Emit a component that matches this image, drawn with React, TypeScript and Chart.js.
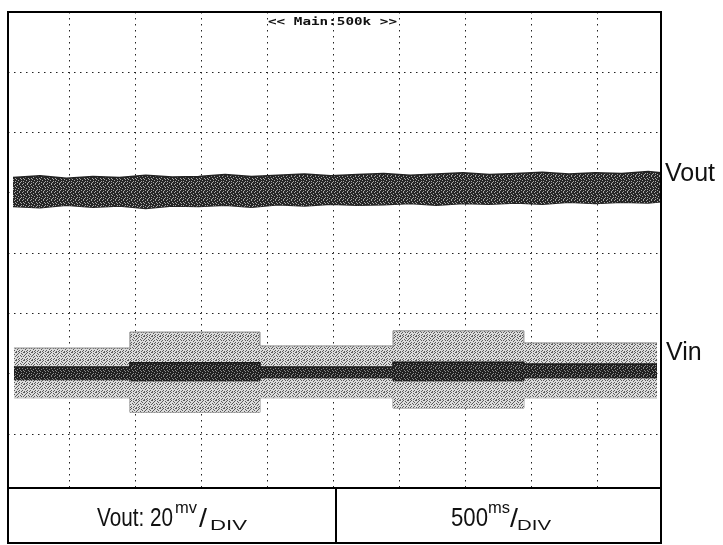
import React, { useEffect, useRef } from 'react';
import { Chart, registerables } from 'chart.js';

Chart.register(...registerables);

// Time axis in seconds (500 ms / div), vertical axis in divisions (0 = screen centre)
const xGridTicks = [0.5, 1, 1.5, 2, 2.5, 3, 3.5, 4, 4.5];
const yGridTicks = [-3, -2, -1, 0, 1, 2, 3];

// Vout trace: noisy band, upper and lower envelope (divisions)
const voutTime = [0.076, 0.28, 0.48, 0.68, 0.88, 1.08, 1.28, 1.48, 1.68, 1.88, 2.08, 2.28, 2.48, 2.68, 2.88, 3.08, 3.28, 3.48, 3.68, 3.88, 4.08, 4.28, 4.48, 4.68, 4.88, 4.977];
const voutUpper = [1.25, 1.28, 1.24, 1.27, 1.25, 1.29, 1.26, 1.27, 1.30, 1.27, 1.29, 1.31, 1.28, 1.30, 1.32, 1.29, 1.31, 1.33, 1.30, 1.32, 1.34, 1.31, 1.33, 1.32, 1.35, 1.33];
const voutLower = [0.77, 0.75, 0.79, 0.76, 0.78, 0.74, 0.78, 0.77, 0.79, 0.76, 0.80, 0.78, 0.81, 0.79, 0.80, 0.82, 0.79, 0.82, 0.81, 0.83, 0.81, 0.84, 0.82, 0.84, 0.83, 0.85];

// Vin trace: step segments (value holds until next time point)
const vinTime = [0.083, 0.96, 1.944, 2.95, 3.94, 4.947];
const vinEnvUpper = [-1.575, -1.31, -1.54, -1.29, -1.49, -1.49];
const vinEnvLower = [-2.40, -2.64, -2.40, -2.57, -2.40, -2.40];
const vinCoreUpper = [-1.89, -1.82, -1.89, -1.81, -1.84, -1.84];
const vinCoreLower = [-2.10, -2.12, -2.07, -2.12, -2.07, -2.07];

const traceLabels = ['Vout', 'Vin'];
const titleText = '<< Main:500k >>';
const voutScaleText = ['Vout: 20', 'mv', '/', 'DIV'];
const timeScaleText = ['500', 'ms', '/', 'DIV'];

const pts = (xs: number[], ys: number[]) => xs.map((x, i) => ({ x, y: ys[i] }));

const FONT = '"Liberation Sans", Arial, sans-serif';

// stipple textures (style only)
const DARK_TEX = [
  '11101101',
  '10111111',
  '11110110',
  '01111011',
  '11011111',
  '11111010',
  '10110111',
  '11101110',
];
const LIGHT_TEX = [
  '10010001',
  '00100100',
  '01000010',
  '10001000',
  '00100101',
  '01000000',
  '00010010',
  '10100100',
];

function makePattern(rows: string[], on: string, off: string) {
  const c = document.createElement('canvas');
  c.width = rows[0].length;
  c.height = rows.length;
  const g = c.getContext('2d')!;
  rows.forEach((r, y) => {
    for (let x = 0; x < r.length; x++) {
      g.fillStyle = r[x] === '1' ? on : off;
      g.fillRect(x, y, 1, 1);
    }
  });
  const p = g.createPattern(c, 'repeat');
  return p || on;
}

function drawFit(ctx: CanvasRenderingContext2D, text: string, font: string, x: number, baseline: number, width: number) {
  ctx.save();
  ctx.font = font;
  const m = ctx.measureText(text).width;
  ctx.translate(x, baseline);
  ctx.scale(width / m, 1);
  ctx.fillText(text, 0, 0);
  ctx.restore();
}

const decorPlugin = {
  id: 'scopeDecor',
  afterDraw(chart: any) {
    const ctx: CanvasRenderingContext2D = chart.ctx;
    const a = chart.chartArea;
    ctx.save();
    ctx.strokeStyle = '#000';
    ctx.lineWidth = 2;
    const bottom = 543;
    const midX = 336;
    ctx.beginPath();
    ctx.rect(a.left, a.top, a.right - a.left, bottom - a.top);
    ctx.moveTo(a.left, a.bottom);
    ctx.lineTo(a.right, a.bottom);
    ctx.moveTo(midX, a.bottom);
    ctx.lineTo(midX, bottom);
    ctx.stroke();

    ctx.fillStyle = '#111';
    ctx.textBaseline = 'alphabetic';
    ctx.textAlign = 'left';
    // trace labels
    ctx.font = `25px ${FONT}`;
    ctx.fillText(traceLabels[0], 665, 181);
    ctx.fillText(traceLabels[1], 666, 360);

    // title
    drawFit(ctx, titleText, 'bold 10px "DejaVu Sans Mono", monospace', 268, 25, 129);

    // bottom scale texts
    drawFit(ctx, voutScaleText[0], `25px ${FONT}`, 97, 526, 76);
    drawFit(ctx, voutScaleText[1], `17px ${FONT}`, 175, 513, 22);
    drawFit(ctx, voutScaleText[2], `25px ${FONT}`, 199, 527, 8);
    drawFit(ctx, voutScaleText[3], `14px ${FONT}`, 210, 530, 37);

    drawFit(ctx, timeScaleText[0], `25px ${FONT}`, 451, 526, 37);
    drawFit(ctx, timeScaleText[1], `17px ${FONT}`, 488, 513, 22);
    drawFit(ctx, timeScaleText[2], `25px ${FONT}`, 510, 527, 8);
    drawFit(ctx, timeScaleText[3], `14px ${FONT}`, 517, 530, 34);
    ctx.restore();
  },
};

export default function App() {
  const ref = useRef<HTMLCanvasElement | null>(null);
  useEffect(() => {
    if (!ref.current) return;
    const darkTex = makePattern(DARK_TEX, '#262626', '#a8a8a8');
    const coreTex = makePattern(DARK_TEX, '#202020', '#8a8a8a');
    const lightTex = makePattern(LIGHT_TEX, '#5a5a5a', '#dcdcdc');
    const chart = new Chart(ref.current, {
      type: 'line',
      data: {
        datasets: [
          {
            label: 'Vin core upper',
            data: pts(vinTime, vinCoreUpper),
            stepped: 'before',
            fill: '+1',
            backgroundColor: coreTex,
            borderColor: '#1a1a1a',
            borderWidth: 1.5,
            pointRadius: 0,
          },
          {
            label: 'Vin core lower',
            data: pts(vinTime, vinCoreLower),
            stepped: 'before',
            fill: false,
            borderColor: '#2a2a2a',
            borderWidth: 1,
            pointRadius: 0,
          },
          {
            label: 'Vin envelope upper',
            data: pts(vinTime, vinEnvUpper),
            stepped: 'before',
            fill: '+1',
            backgroundColor: lightTex,
            borderColor: '#8a8a8a',
            borderWidth: 1,
            pointRadius: 0,
          },
          {
            label: 'Vin envelope lower',
            data: pts(vinTime, vinEnvLower),
            stepped: 'before',
            fill: false,
            borderColor: '#8a8a8a',
            borderWidth: 1,
            pointRadius: 0,
          },
          {
            label: 'Vout upper',
            data: pts(voutTime, voutUpper),
            fill: '+1',
            backgroundColor: darkTex,
            borderColor: '#222',
            borderWidth: 1.5,
            pointRadius: 0,
          },
          {
            label: 'Vout lower',
            data: pts(voutTime, voutLower),
            fill: false,
            borderColor: '#222',
            borderWidth: 1.5,
            pointRadius: 0,
          },
        ],
      },
      options: {
        responsive: false,
        maintainAspectRatio: false,
        animation: false,
        devicePixelRatio: 1,
        layout: { padding: { left: 8, right: 62, top: 12, bottom: 57 } },
        plugins: {
          legend: { display: false },
          tooltip: { enabled: false },
        },
        scales: {
          x: {
            type: 'linear',
            min: 0.038,
            max: 4.977,
            afterBuildTicks: (s: any) => {
              s.ticks = xGridTicks.map((v) => ({ value: v }));
            },
            ticks: { display: false },
            grid: { color: '#222', lineWidth: 1, drawTicks: false },
            border: { display: false, dash: [1.5, 4.5] },
          },
          y: {
            type: 'linear',
            min: -3.895,
            max: 3.995,
            afterBuildTicks: (s: any) => {
              s.ticks = yGridTicks.map((v) => ({ value: v }));
            },
            ticks: { display: false },
            grid: { color: '#222', lineWidth: 1, drawTicks: false },
            border: { display: false, dash: [1.5, 4.5] },
          },
        },
      },
      plugins: [decorPlugin],
    } as any);
    return () => chart.destroy();
  }, []);
  return (
    <div style={{ position: 'absolute', left: 0, top: 0, width: 723, height: 545, background: '#fff' }}>
      <canvas ref={ref} width={723} height={545} style={{ display: 'block' }} />
    </div>
  );
}
